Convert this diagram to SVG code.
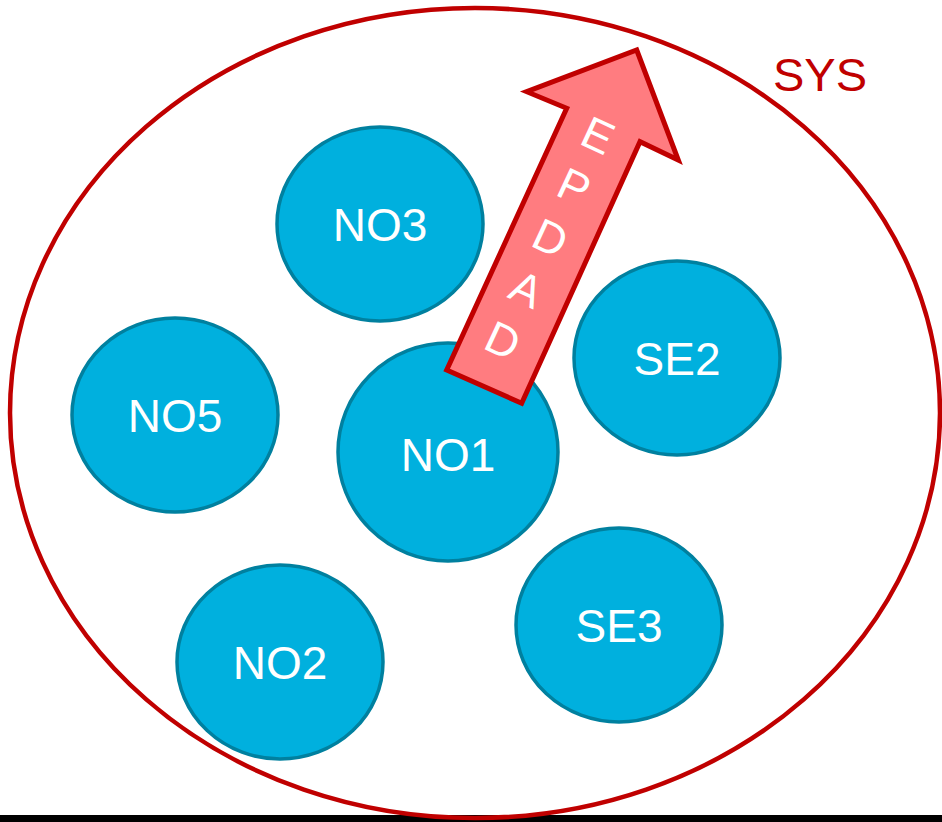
<svg xmlns="http://www.w3.org/2000/svg" width="942" height="822" viewBox="0 0 942 822">
  <style>
    .node { fill: #00B0DE; stroke: #00809F; stroke-width: 3.5; }
    .lbl { font-family: "Liberation Sans", Arial, sans-serif; font-size: 46px; fill: #FFFFFF; text-anchor: middle; }
    .sys { fill: none; stroke: #C00000; stroke-width: 4.5; }
    .arrow { fill: #FF7C80; stroke: #C00000; stroke-width: 5; stroke-linejoin: miter; }
  </style>
  <rect x="0" y="0" width="942" height="822" fill="#FFFFFF"/>
  <rect x="0" y="815" width="942" height="7" fill="#000000"/>

  <!-- system boundary -->
  <g id="sys">
    <ellipse class="sys" cx="475" cy="413" rx="465" ry="405"/>
    <text x="820" y="91" font-family="Liberation Sans, Arial, sans-serif" font-size="47" fill="#C00000" text-anchor="middle">SYS</text>
  </g>

  <g id="no3"><ellipse class="node" cx="380" cy="224" rx="103" ry="97"/><text class="lbl" x="380" y="241">NO3</text></g>
  <g id="no5"><ellipse class="node" cx="175" cy="415" rx="103" ry="97"/><text class="lbl" x="175" y="432">NO5</text></g>
  <g id="se2"><ellipse class="node" cx="677" cy="358" rx="103" ry="97"/><text class="lbl" x="677" y="375">SE2</text></g>
  <g id="no1"><ellipse class="node" cx="448" cy="452" rx="110" ry="109"/><text class="lbl" x="448" y="471">NO1</text></g>
  <g id="se3"><ellipse class="node" cx="619" cy="625" rx="103" ry="97"/><text class="lbl" x="619" y="642">SE3</text></g>
  <g id="no2"><ellipse class="node" cx="280" cy="662" rx="103" ry="97"/><text class="lbl" x="280" y="679">NO2</text></g>

  <!-- block arrow leaving NO1 -->
  <g id="epdad">
    <polygon class="arrow" points="636.7,50 678.3,160 640,141.7 521.7,403.3 446.7,370 566.7,108.3 526.7,91.7"/>
    <g transform="translate(550.5,237.5) rotate(24.9)" font-family="Liberation Sans, Arial, sans-serif" font-size="45" fill="#FFFFFF" text-anchor="middle">
      <text x="0" y="-97">E</text>
      <text x="0" y="-40.5">P</text>
      <text x="0" y="16">D</text>
      <text x="0" y="72.5">A</text>
      <text x="0" y="129">D</text>
    </g>
  </g>
</svg>
